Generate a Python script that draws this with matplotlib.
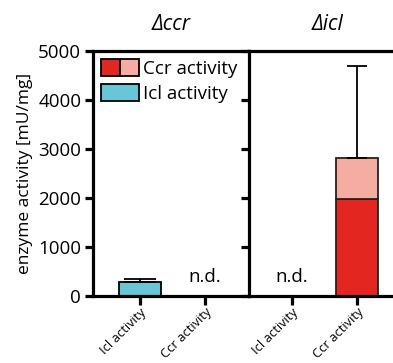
import numpy as np
import matplotlib
matplotlib.use('Agg')
import matplotlib.pyplot as plt
from matplotlib.patches import Patch
from matplotlib.legend_handler import HandlerTuple

plt.rcParams['font.family'] = ['Open Sans', 'DejaVu Sans']

# Data (mU/mg)
strains = ['Δccr', 'Δicl']
tick_labels = ['Icl activity', 'Ccr activity']
icl_dccr = 280
icl_dccr_err = 65
ccr_dicl_base = 1970
ccr_dicl_extra = 840
ccr_dicl_err = 1890

red = '#e3261f'
pink = '#f4ada0'
cyan = '#69c6d6'
lw = 2.3

fig = plt.figure(figsize=(3.93, 3.63), dpi=100)
W, H = 393, 363
ax1 = fig.add_axes([93 / W, 1 - 296 / H, 156 / W, 245 / H])
ax2 = fig.add_axes([249 / W, 1 - 296 / H, 156 / W, 245 / H])

for ax in (ax1, ax2):
    ax.set_ylim(0, 5000)
    ax.set_yticks([0, 1000, 2000, 3000, 4000, 5000])
    ax.set_xticks([0, 1])
    ax.set_xticklabels(tick_labels, rotation=45, ha='right', rotation_mode='anchor')
    ax.tick_params(width=lw, length=5.5, labelsize=13.5, pad=3)
    ax.tick_params(axis='x', length=6.5, labelsize=9.4, pad=0.5)
    for s in ax.spines.values():
        s.set_linewidth(lw)
    ax.spines['right'].set_visible(False)

ax1.set_xlim(-0.72, 1.68)
ax2.set_xlim(-0.66, 1.74)
ax2.set_yticklabels([])

# left panel: Δccr
ax1.bar(0, icl_dccr, width=0.65, color=cyan, edgecolor='black', linewidth=1.3,
        yerr=[[0], [icl_dccr_err]], error_kw=dict(capsize=11.5, elinewidth=1.3, capthick=1.3))
ax1.text(1, 390, 'n.d.', ha='center', va='center', fontsize=13.5)
ax1.set_title(strains[0], style='italic', fontsize=15, pad=15)
ax1.set_ylabel('enzyme activity [mU/mg]', fontsize=12.5, labelpad=4)

# right panel: Δicl
ax2.text(0, 390, 'n.d.', ha='center', va='center', fontsize=13.5)
ax2.bar(1, ccr_dicl_base, width=0.65, color=red, edgecolor='#222222', linewidth=1.3)
ax2.bar(1, ccr_dicl_extra, bottom=ccr_dicl_base, width=0.65, color=pink,
        edgecolor='#222222', linewidth=1.3,
        yerr=[[0], [ccr_dicl_err]], error_kw=dict(capsize=7, elinewidth=1.3, capthick=1.3))
ax2.set_title(strains[1], style='italic', fontsize=15, pad=15)

# legend
h_ccr = (Patch(facecolor=red, edgecolor='black', linewidth=1.3),
         Patch(facecolor=pink, edgecolor='black', linewidth=1.3))
h_icl = Patch(facecolor=cyan, edgecolor='black', linewidth=1.3)
ax1.legend([h_ccr, h_icl], ['Ccr activity', 'Icl activity'],
           handler_map={tuple: HandlerTuple(ndivide=None, pad=0)},
           loc='upper left', bbox_to_anchor=(0.0, 1.0), frameon=False,
           fontsize=13.5, handlelength=2.0, handleheight=1.0, handletextpad=0.2,
           labelspacing=0.3, borderaxespad=0.15, borderpad=0.3)

fig.savefig('out.png', dpi=100)
